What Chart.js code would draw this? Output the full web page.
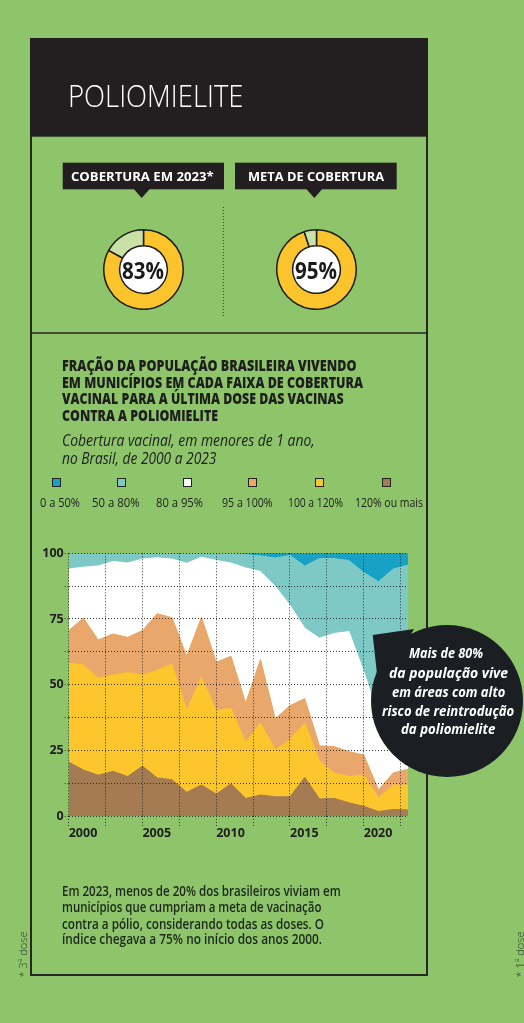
<!DOCTYPE html>
<html><head><meta charset="utf-8">
<script src="https://cdn.jsdelivr.net/npm/chart.js@4.4.1/dist/chart.umd.min.js"></script>
<style>
html,body{margin:0;padding:0;}
body{width:524px;height:1023px;position:relative;overflow:hidden;background:#8ec56b;font-family:"Open Sans",sans-serif;}
.t{position:absolute;white-space:nowrap;line-height:1;}
.sq{position:absolute;width:7px;height:7px;border:1px solid #222;}
canvas{position:absolute;}
svg{position:absolute;left:0;top:0;}
</style></head>
<body>
<svg id="bg" width="524" height="1023">
  <rect x="31" y="39" width="396" height="936" fill="none" stroke="#262626" stroke-width="2"/>
  <rect x="30" y="38" width="398" height="98.7" fill="#231f20"/>
  <line x1="30" y1="333" x2="428" y2="333" stroke="#262626" stroke-width="1.5"/>
  <rect x="62.7" y="162.7" width="161.3" height="26.6" fill="#231f20"/>
  <polygon points="133.7,189 149.7,189 141.7,198" fill="#231f20"/>
  <rect x="235" y="162.7" width="161.7" height="26.6" fill="#231f20"/>
  <polygon points="306.3,189 322.3,189 314.3,198" fill="#231f20"/>
  <line x1="223.3" y1="207" x2="223.3" y2="317" stroke="#333" stroke-width="1" stroke-dasharray="1,2"/>
  <circle cx="143.3" cy="269.3" r="24.5" fill="#fff"/>
  <circle cx="316" cy="269.3" r="24.5" fill="#fff"/>
</svg>
<canvas id="d1" width="81" height="81" style="left:102.8px;top:228.8px"></canvas>
<canvas id="d2" width="81" height="81" style="left:275.5px;top:228.8px"></canvas>
<canvas id="c" width="430" height="320" style="left:0;top:540px"></canvas>
<svg id="fg" width="524" height="1023" style="pointer-events:none">
  <polygon points="372.7,635 414,629 379,692" fill="#1b1f24"/>
  <circle cx="447" cy="701" r="76" fill="#1b1f24"/>
</svg>
<div id="legend"></div>
<div id="texts"></div>
<script>
// ---- DATA ----
const years = [2000,2001,2002,2003,2004,2005,2006,2007,2008,2009,2010,2011,2012,2013,2014,2015,2016,2017,2018,2019,2020,2021,2022,2023];
const s120mais = [20.5,17.5,15.5,17,15,19,14.5,13.8,9,11.8,8.3,12.3,6.7,8,7.3,7.3,14.7,6.5,6.7,5,3.7,1.7,2.5,2.3];
const s100a120 = [37.7,40,36.9,36.7,39.6,34.7,40.9,44,31.4,40.9,31.9,28.7,21.3,27.4,17.9,21.7,20.7,14.5,9.6,10,11.9,5.1,9.3,9.5];
const s95a100  = [12.4,17.8,14.6,15.6,13.4,16.9,21.6,17.7,20.4,23,18.3,19.8,15,24.2,11.8,13,9.3,5.7,10.1,9.5,7.6,3.2,4.6,6];
const s80a95   = [23.4,19.4,28.2,27.6,28.3,27.2,21.3,22.3,35.4,22.8,38.8,35.5,51.4,33.5,50.4,38.2,26.8,41,43.1,45.7,31.8,28,23.6,24.2];
const s50a80   = [6,5.3,4.8,3.1,3.7,2.2,1.7,2.2,3.8,1.5,2.7,3.7,5.1,5.9,10.8,19,23.7,30.3,28.5,27,37.7,51.2,54,53.5];
const s0a50    = [0,0,0,0,0,0,0,0,0,0,0,0,0.5,1,1.8,0.8,4.8,2,2,2.8,7.3,10.8,6,4.5];
const seriesLabels = ['120% ou mais','100 a 120%','95 a 100%','80 a 95%','50 a 80%','0 a 50%'];
const yTicks = [0,12.5,25,37.5,50,62.5,75,87.5,100];
const xTicks = [2000,2002.5,2005,2007.5,2010,2012.5,2015,2017.5,2020,2022.5];
const cobertura2023 = 83;
const metaCobertura = 95;

const colors = ['#a47b52','#fdc62c','#e9a76b','#ffffff','#7ec9c5','#17a2c5'];
const seriesData = [s120mais,s100a120,s95a100,s80a95,s50a80,s0a50];

const gridColor = 'rgba(35,35,35,0.9)';
const tickFont = {family:'"Open Sans"', size:12.5, weight:'700'};

new Chart(document.getElementById('c'), {
  type:'line',
  data:{
    datasets: seriesData.map((d,i)=>({
      label: seriesLabels[i],
      data: years.map((y,j)=>({x:y, y:d[j]})),
      backgroundColor: colors[i],
      borderColor: colors[i],
      borderWidth: 1,
      pointRadius: 0,
      tension: 0,
      fill: i===0 ? 'origin' : '-1'
    }))
  },
  options:{
    responsive:false, animation:false,
    layout:{padding:{left:0, top:13.3, right:22, bottom:14}},
    plugins:{legend:{display:false}, tooltip:{enabled:false}},
    scales:{
      x:{
        type:'linear', min:2000, max:2023,
        afterBuildTicks:(ax)=>{ ax.ticks = xTicks.map(v=>({value:v})); },
        afterFit:(sc)=>{ sc.height = 30; },
        ticks:{align:'start', autoSkip:false, maxRotation:0, padding:0, color:'#1e1e1e', font:tickFont,
          callback:(v)=> (v % 5 === 0 ? String(v) : '')},
        grid:{z:1, color:gridColor, lineWidth:1, drawTicks:true, tickLength:10, tickColor:gridColor, tickBorderDash:[1,2]},
        border:{display:false, dash:[1,2]}
      },
      y:{
        min:0, max:100, stacked:true,
        afterBuildTicks:(ax)=>{ ax.ticks = yTicks.map(v=>({value:v})); },
        afterFit:(sc)=>{ sc.width = 68.7; },
        ticks:{autoSkip:false, padding:1, color:'#1e1e1e', font:tickFont,
          callback:(v)=> (v % 25 === 0 ? String(v) : '')},
        grid:{z:1, color:gridColor, lineWidth:1, drawTicks:true, tickLength:4, tickColor:gridColor, tickBorderDash:[1,2]},
        border:{display:false, dash:[1,2]}
      }
    }
  }
});

function donut(id, v){
  new Chart(document.getElementById(id), {
    type:'doughnut',
    data:{labels:['Cobertura','Restante'], datasets:[{data:[v,100-v], backgroundColor:['#fcc42c','#c8e2a6'], borderColor:'#1d1d1d', borderWidth:1.5, hoverOffset:0}]},
    options:{responsive:false, animation:false, cutout:'60%', layout:{padding:0}, plugins:{legend:{display:false}, tooltip:{enabled:false}}}
  });
}
donut('d1', cobertura2023);
donut('d2', metaCobertura);

// ---- LEGEND (order as in reference: 0 a 50% ... 120% ou mais) ----
const legLab = ['0 a 50%','50 a 80%','80 a 95%','95 a 100%','100 a 120%','120% ou mais'];
const legCol = colors.slice().reverse();
const legSqX = [56.7, 121.7, 187.3, 252.3, 319.3, 386];
const legCx = [60, 115.5, 179.7, 247, 315.5, 389];
const legW = [40, 47.6, 47, 50.6, 55, 68];
const lg = document.getElementById('legend');
legSqX.forEach((x,i)=>{
  const s = document.createElement('div');
  s.className='sq';
  s.style.left = (x-4.5)+'px';
  s.style.top = (482.7-4.5)+'px';
  s.style.background = legCol[i];
  lg.appendChild(s);
});

// ---- TEXT ----
const T = [];
function add(t, x, y, w, f, c, center){ T.push({t,x,y,w,f,c,center}); }
add('POLIOMIELITE', 68.3, 95, 175.5, '300 32px "Open Sans"', '#fff');
add('COBERTURA EM 2023*', 70.7, 176, 142.7, '700 13px "Open Sans"', '#fff');
add('META DE COBERTURA', 248.3, 176, 136, '700 13px "Open Sans"', '#fff');
add(cobertura2023+'%', 143.3, 270, 42, '700 24px "Open Sans"', '#1a1a1a', true);
add(metaCobertura+'%', 316, 270, 42, '700 24px "Open Sans"', '#1a1a1a', true);
const hf = '800 15px "Open Sans"';
add('FRAÇÃO DA POPULAÇÃO BRASILEIRA VIVENDO', 62.3, 365, 294.4, hf, '#1e1e1e');
add('EM MUNICÍPIOS EM CADA FAIXA DE COBERTURA', 62.3, 381.7, 301, hf, '#1e1e1e');
add('VACINAL PARA A ÚLTIMA DOSE DAS VACINAS', 62.3, 398.3, 281.7, hf, '#1e1e1e');
add('CONTRA A POLIOMIELITE', 62.3, 415, 156, hf, '#1e1e1e');
add('Cobertura vacinal, em menores de 1 ano,', 62.3, 440, 252.7, 'italic 400 16px "Open Sans"', '#1e1e1e');
add('no Brasil, de 2000 a 2023', 62.3, 458.3, 154.4, 'italic 400 16px "Open Sans"', '#1e1e1e');
legLab.forEach((l,i)=> add(l, legCx[i], 503.3, legW[i], '400 13.5px "Open Sans"', '#1e1e1e', true));
const bf = 'italic 700 15px "Open Sans"';
add('Mais de 80%', 446.3, 651.7, 74, bf, '#fff', true);
add('da população vive', 448.8, 671.7, 119, bf, '#fff', true);
add('em áreas com alto', 448.3, 690.5, 113.3, bf, '#fff', true);
add('risco de reintrodução', 447.8, 710, 132.3, bf, '#fff', true);
add('da poliomielite', 447.8, 728.3, 94.3, bf, '#fff', true);
const nf = '600 15px "Open Sans"';
add('Em 2023, menos de 20% dos brasileiros viviam em', 62.3, 890, 278.7, nf, '#1c261b');
add('municípios que cumpriam a meta de vacinação', 62.3, 906, 259.4, nf, '#1c261b');
add('contra a pólio, considerando todas as doses. O', 62.3, 922.7, 262, nf, '#1c261b');
add('índice chegava a 75% no início dos anos 2000.', 62.3, 938.3, 260, nf, '#1c261b');

const box = document.getElementById('texts');
function layout(){
  box.innerHTML = '';
  T.forEach(o=>{
    const d = document.createElement('div');
    d.className = 't';
    d.textContent = o.t;
    d.style.font = o.f;
    d.style.lineHeight = '1';
    d.style.color = o.c;
    box.appendChild(d);
    const nw = d.getBoundingClientRect().width;
    const s = o.w / nw;
    const left = o.center ? o.x - o.w/2 : o.x;
    d.style.left = left + 'px';
    d.style.top = o.y + 'px';
    d.style.transformOrigin = '0 0';
    d.style.transform = 'scaleX(' + s + ') translateY(-50%)';
  });
  [['* 3ª dose', 22.8], ['* 1ª dose', 519.5]].forEach(([t,cx])=>{
    const d = document.createElement('div');
    d.className='t'; d.textContent=t;
    d.style.font='300 11px "Open Sans"'; d.style.color='#2b3a28';
    box.appendChild(d);
    const r = d.getBoundingClientRect();
    d.style.left = (cx - r.width/2) + 'px';
    d.style.top = (954 - r.height/2) + 'px';
    d.style.transform = 'rotate(-90deg)';
  });
}
layout();
if (document.fonts && document.fonts.ready) document.fonts.ready.then(layout);
</script>
</body></html>
